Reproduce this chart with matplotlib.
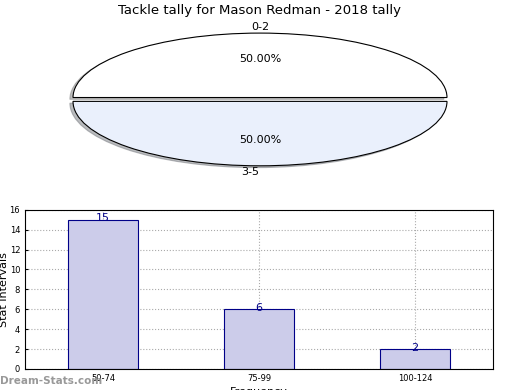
import matplotlib
matplotlib.use("Agg")
import matplotlib.pyplot as plt

title = "Tackle tally for Mason Redman - 2018 tally"
pie_labels = ["0-2", "3-5"]
pie_values = [1, 1]
pie_colors = ["#ffffff", "#eaf0fc"]

bar_labels = ["50-74", "75-99", "100-124"]
bar_values = [15, 6, 2]

fig = plt.figure(figsize=(5.2, 3.9), dpi=100)
fig.patch.set_facecolor("white")

# Pie
axp = fig.add_axes([0.0505, 0.5385, 0.899, 0.413])
wedges, texts, autotexts = axp.pie(
    pie_values, labels=pie_labels, colors=pie_colors, startangle=0,
    explode=[0.03, 0.03], shadow=dict(ox=-0.012, oy=-0.02, shade=0.5),
    autopct="%.2f%%", pctdistance=0.6,
    labeldistance=1.09, wedgeprops=dict(edgecolor="black", linewidth=0.8),
    textprops=dict(fontsize=8))
axp.set_aspect("auto")
axp.set_xlim(-1.25, 1.25)
axp.set_ylim(-1.25, 1.25)
for t in texts:
    t.set_ha("center")
texts[1].set_x(texts[1].get_position()[0] - 0.05)
fig.text(0.5, 0.974, title, fontsize=9.5, ha="center", va="center")

# Bars
axb = fig.add_axes([0.048, 0.054, 0.9, 0.408])
x = list(range(len(bar_values)))
bars = axb.bar(x, bar_values, width=0.45, color="#ccccea", edgecolor="#000088",
               linewidth=0.8, zorder=2)
for xi, v in zip(x, bar_values):
    axb.annotate(str(v), (xi, v), xytext=(0, -2.5), textcoords="offset points",
                 ha="center", va="bottom", color="#000088", fontsize=8)
axb.set_xlim(-0.5, 2.5)
axb.set_ylim(0, 16)
axb.set_yticks(range(0, 17, 2))
axb.set_xticks(x)
axb.set_xticklabels(bar_labels)
axb.tick_params(labelsize=6, length=2, direction="in")
axb.grid(True, linestyle=":", color="#aaaaaa", linewidth=0.8, zorder=0)
axb.set_axisbelow(True)
axb.set_ylabel("Stat Intervals", fontsize=8)
axb.yaxis.set_label_coords(-0.034, 0.5)
axb.set_xlabel("Frequency", fontsize=8, labelpad=3)

fig.text(0.0, 0.01, "Dream-Stats.com", fontsize=7.5, color="#999999",
         fontweight="bold", ha="left", va="bottom")

fig.savefig("out.png", dpi=100)
